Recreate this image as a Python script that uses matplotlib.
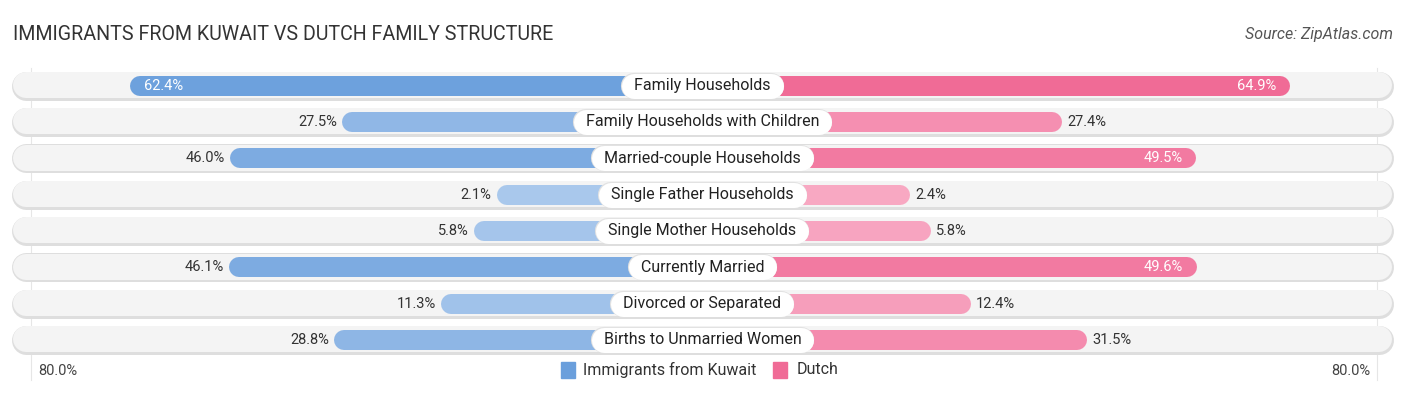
import numpy as np
import matplotlib.pyplot as plt
from matplotlib.colors import to_rgb

plt.rcParams['font.family'] = ['Roboto', 'DejaVu Sans']

# ======== data ========
categories = [
    "Family Households",
    "Family Households with Children",
    "Married-couple Households",
    "Single Father Households",
    "Single Mother Households",
    "Currently Married",
    "Divorced or Separated",
    "Births to Unmarried Women",
]
kuwait = [62.4, 27.5, 46.0, 2.1, 5.8, 46.1, 11.3, 28.8]
dutch = [64.9, 27.4, 49.5, 2.4, 5.8, 49.6, 12.4, 31.5]
series_names = ["Immigrants from Kuwait", "Dutch"]
axis_max_label = "80.0%"

# ======== layout (pixel based) ========
W, H = 1406, 395
DPI = 100
cx = 702.4          # centre x in px
px_per_pct = 6.08   # bar scale
offset_px = 193     # bar part hidden under the centre label
row0, row_step = 85.5, 36.35
bg_h, bar_h, lab_h = 28, 20, 25

blue_dark, blue_light = "#6a9fdc", "#abc9ed"
pink_dark, pink_light = "#f06b96", "#f8aac4"


def shade(light, dark, v, vmax=65.0):
    t = min(v / vmax, 1.0)
    a, b = np.array(to_rgb(light)), np.array(to_rgb(dark))
    return tuple(a + (b - a) * t)


fig = plt.figure(figsize=(W / DPI, H / DPI), dpi=DPI)
ax = fig.add_axes([0, 0, 1, 1])
ax.set_xlim(0, W)
ax.set_ylim(H, 0)
ax.axis("off")
renderer = fig.canvas.get_renderer()

px2pt = 72 / DPI

# faint guide lines
for gx in (31, 1377):
    ax.plot([gx, gx], [68, 380], color="#e6e6e6", lw=0.8, zorder=0)

for i, cat in enumerate(categories):
    y = row0 + row_step * i
    # background pill (border + fill)
    ax.plot([12 + bg_h / 2, 1393 - bg_h / 2], [y, y], color="#dedede",
            lw=(bg_h + 1) * px2pt, solid_capstyle="round", zorder=1)
    ax.plot([12 + bg_h / 2, 1393 - bg_h / 2], [y - 0.5, y - 0.5], color="#f4f4f4",
            lw=(bg_h - 2) * px2pt, solid_capstyle="round", zorder=1)

    kv, dv = kuwait[i], dutch[i]
    left = cx - offset_px - kv * px_per_pct
    right = cx + offset_px + dv * px_per_pct
    ax.plot([left + bar_h / 2, cx], [y, y], color=shade(blue_light, blue_dark, kv),
            lw=bar_h * px2pt, solid_capstyle="round", zorder=2)
    ax.plot([cx, right - bar_h / 2], [y, y], color=shade(pink_light, pink_dark, dv),
            lw=bar_h * px2pt, solid_capstyle="round", zorder=2)

    # value labels
    if kv > 48:
        ax.text(left + 14, y, f"{kv:.1f}%", color="white", fontsize=10.5,
                ha="left", va="center", zorder=4)
    else:
        ax.text(left - 5, y, f"{kv:.1f}%", color="#333333", fontsize=10.5,
                ha="right", va="center", zorder=4)
    if dv > 48:
        ax.text(right - 14, y, f"{dv:.1f}%", color="white", fontsize=10.5,
                ha="right", va="center", zorder=4)
    else:
        ax.text(right + 5, y, f"{dv:.1f}%", color="#333333", fontsize=10.5,
                ha="left", va="center", zorder=4)

    # centre label on a white pill
    t = ax.text(cx, y, cat, fontsize=11.5, color="#222222", ha="center", va="center",
                zorder=6)
    bb = t.get_window_extent(renderer)
    half = bb.width / 2
    ax.plot([cx - half, cx + half], [y, y], color="#e2e2e2",
            lw=(lab_h + 1.2) * px2pt, solid_capstyle="round", zorder=4)
    ax.plot([cx - half, cx + half], [y, y], color="white",
            lw=lab_h * px2pt, solid_capstyle="round", zorder=5)

# title and source
ax.text(13, 34, "IMMIGRANTS FROM KUWAIT VS DUTCH FAMILY STRUCTURE", fontsize=14.1,
        color="#333333", ha="left", va="center")
ax.text(1393, 34, "Source: ZipAtlas.com", fontsize=11.5, color="#555555",
        ha="right", va="center", style="italic")

# axis labels
ax.text(38, 371, axis_max_label, fontsize=10.5, color="#444444", ha="left", va="center")
ax.text(1370, 371, axis_max_label, fontsize=10.5, color="#444444", ha="right", va="center")

# legend
ax.add_patch(plt.Rectangle((561, 362), 14, 16, color=blue_dark, zorder=3))
ax.text(583, 374.5, series_names[0], fontsize=11.5, color="#333333", ha="left",
        va="baseline")
ax.add_patch(plt.Rectangle((773, 362), 14, 16, color=pink_dark, zorder=3))
ax.text(797, 374.5, series_names[1], fontsize=11.5, color="#333333", ha="left",
        va="baseline")

fig.savefig("out.png", dpi=DPI)
